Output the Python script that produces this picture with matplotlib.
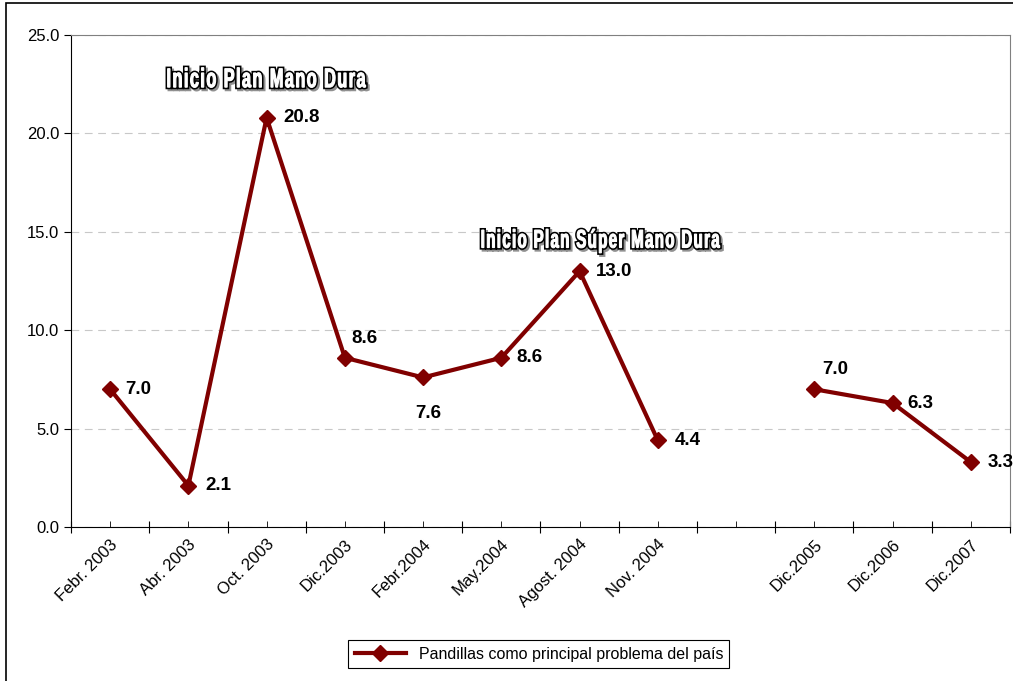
import numpy as np
import matplotlib.pyplot as plt
import matplotlib.patches as mpatches
import matplotlib.transforms as mtransforms
from matplotlib.path import Path
from matplotlib.textpath import TextPath
from matplotlib.font_manager import FontProperties, findfont, get_font

fechas = ['Febr. 2003', 'Abr. 2003', 'Oct. 2003', 'Dic.2003', 'Febr.2004',
          'May.2004', 'Agost. 2004', 'Nov. 2004', '', 'Dic.2005',
          'Dic.2006', 'Dic.2007']
pandillas = [7.0, 2.1, 20.8, 8.6, 7.6, 8.6, 13.0, 4.4, np.nan, 7.0, 6.3, 3.3]

# label offsets in points (dx, dy) for each value
offsets = [(11, 0), (12, 0), (12, 0), (5, 14), (-6, -26), (11, 0),
           (12, 0), (12, 0), (0, 0), (6, 14), (11, 0), (12, 0)]

plt.rcParams['font.family'] = ['Liberation Sans', 'DejaVu Sans']


def tracked_path(s, prop, tracking):
    '''
    Builds a text path (size 1) with extra space between letters.
    '''
    font = get_font(findfont(prop))
    font.set_size(100, 72)
    parts = []
    xpos = 0.
    for c in s:
        if c != ' ':
            parts.append(TextPath((xpos, 0), c, size=1, prop=prop))
        glyph = font.load_char(ord(c))
        xpos += glyph.linearHoriAdvance / 65536. / 100. + tracking
    return Path.make_compound_path(*parts)


def outlined_title(ax, s, x, y, width_px, cap_px):
    '''
    Draws a condensed white title with black outline and grey shadow,
    centred on x with its baseline at y (data coords).
    '''
    prop = FontProperties(family='Liberation Sans', weight='bold')
    tp = tracked_path(s, prop, 0.09)
    cap = TextPath((0, 0), 'I', size=1, prop=prop).get_extents().height
    ext = tp.get_extents()
    sx = width_px / ext.width
    sy = cap_px / cap
    base = (mtransforms.Affine2D().translate(-ext.x0 - ext.width / 2, 0)
            .scale(sx, sy))
    anchor = mtransforms.ScaledTranslation(x, y, ax.transData)
    shadow = base + mtransforms.Affine2D().translate(2, -2) + anchor
    ax.add_patch(mpatches.PathPatch(tp, transform=shadow, fc='#909090',
                                    ec='#909090', lw=3.0, zorder=5,
                                    clip_on=False))
    ax.add_patch(mpatches.PathPatch(tp, transform=base + anchor, fc='black',
                                    ec='black', lw=3.0, zorder=6,
                                    clip_on=False))
    ax.add_patch(mpatches.PathPatch(tp, transform=base + anchor, fc='white',
                                    ec='white', lw=0.8, zorder=7,
                                    clip_on=False))


fig = plt.figure(figsize=(10.13, 6.81), dpi=100)
ax = fig.add_axes([0.0701, 0.2261, 0.9269, 0.7225])

x = np.arange(len(fechas))
ax.plot(x, pandillas, color='#800000', lw=3, marker='D', ms=8.5,
        label=u'Pandillas como principal problema del pa\u00eds')

for xi, v, (dx, dy) in zip(x, pandillas, offsets):
    if np.isnan(v):
        continue
    ax.annotate('%.1f' % v, (xi, v), xytext=(dx, dy),
                textcoords='offset points', ha='left', va='center',
                fontsize=13.5, fontweight='bold', annotation_clip=False)

ax.set_xlim(-0.5, len(fechas) - 0.5)
ax.set_ylim(0, 25)

outlined_title(ax, 'Inicio Plan Mano Dura', 2.0, 22.35, 198, 18.5)
outlined_title(ax, u'Inicio Plan S\u00faper Mano Dura', 6.27, 14.2, 238, 17.5)

ax.set_yticks(np.arange(0, 26, 5))
ax.set_yticklabels(['%.1f' % t for t in np.arange(0, 26, 5)], fontsize=12)
ax.yaxis.grid(True, color='#c8c8c8', ls=(0, (7, 5)), lw=0.8)
ax.set_axisbelow(True)

ax.set_xticks(np.arange(-0.5, len(fechas), 1))
ax.set_xticklabels([])
ax.set_xticks(x, minor=True)
ax.set_xticklabels(fechas, minor=True, rotation=45, ha='right',
                   rotation_mode='anchor', fontsize=12)
ax.tick_params(axis='x', which='major', direction='inout', length=8)
ax.tick_params(axis='x', which='minor', direction='in', length=4, pad=7)
ax.tick_params(axis='y', direction='out', length=5)

for s in ['top', 'right']:
    ax.spines[s].set_color('#808080')

leg = ax.legend(loc='lower center', bbox_to_anchor=(0.532, 0.007),
                bbox_transform=fig.transFigure, fontsize=11.5,
                fancybox=False, edgecolor='black', framealpha=1,
                handlelength=3.2, borderpad=0.4)
leg.get_frame().set_linewidth(0.8)

fig.patches.append(mpatches.Rectangle((6 / 1013, -0.1), 1.5, 1 - 3 / 681 + 0.1,
                                      transform=fig.transFigure, fill=False,
                                      edgecolor='black', lw=1.2))

plt.savefig('out.png', dpi=100)
